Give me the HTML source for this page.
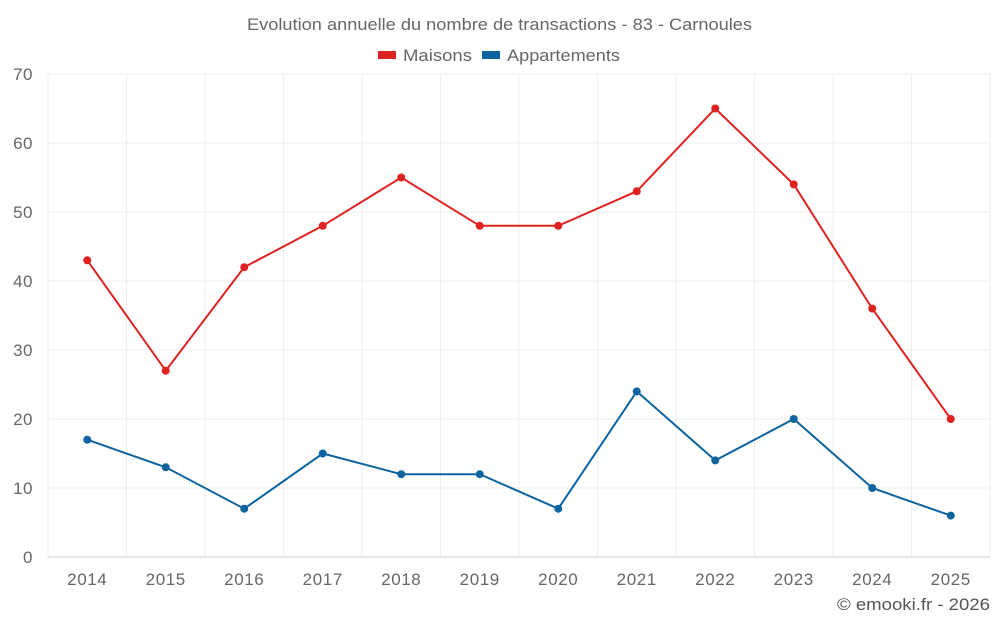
<!DOCTYPE html>
<html><head><meta charset="utf-8"><style>
body{margin:0;background:#fff;}
svg{display:block;font-family:"Liberation Sans",sans-serif;}
</style></head><body>
<svg id="chart" width="1000" height="625">
<text x="247" y="30" textLength="505" lengthAdjust="spacingAndGlyphs" font-size="17" fill="#666">Evolution annuelle du nombre de transactions - 83 - Carnoules</text>
<g>
<g><rect x="378" y="51" width="18" height="8" fill="#dd2222"/><text x="403" y="61" textLength="69" lengthAdjust="spacingAndGlyphs" font-size="17" fill="#666">Maisons</text></g>
<g><rect x="482" y="51" width="18" height="8" fill="#0f64a0"/><text x="507" y="61" textLength="113" lengthAdjust="spacingAndGlyphs" font-size="17" fill="#666">Appartements</text></g>
</g>
<g id="grid"></g><g id="axes"></g><g id="series"></g>
<text x="837" y="610" textLength="153" lengthAdjust="spacingAndGlyphs" font-size="17" fill="#555">© emooki.fr - 2026</text>
</svg>
<script>
const years=["2014","2015","2016","2017","2018","2019","2020","2021","2022","2023","2024","2025"];
const maisons=[43,27,42,48,55,48,48,53,65,54,36,20];
const appartements=[17,13,7,15,12,12,7,24,14,20,10,6];
const yTicks=[0,10,20,30,40,50,60,70];
const NS="http://www.w3.org/2000/svg";
const L=48,R=990,T=74,B=557,yMax=70;
const step=(R-L)/years.length;
const x=i=>L+step*(i+0.5);
const y=v=>B-(v/yMax)*(B-T);
function mk(t,a,p){const e=document.createElementNS(NS,t);for(const k in a)e.setAttribute(k,a[k]);p.appendChild(e);return e;}
const grid=document.getElementById('grid'),axes=document.getElementById('axes'),ser=document.getElementById('series');
yTicks.forEach(v=>{
 const g=mk('line',{x1:L,x2:R,y1:y(v),y2:y(v),stroke:v===0?'#ccc':'#eee'},grid);
 
 
 const t=mk('text',{x:33,y:y(v)+6,'text-anchor':'end','font-size':17,'letter-spacing':0.5,fill:'#666'},axes);t.textContent=v;
 
 
});
for(let i=0;i<=years.length;i++){
 const g=mk('line',{x1:L+step*i,x2:L+step*i,y1:T,y2:B,stroke:'#eee'},grid);
 
 
}
years.forEach((yr,i)=>{
 const t=mk('text',{x:x(i),y:585,'text-anchor':'middle','font-size':17,'letter-spacing':0.6,fill:'#666'},axes);t.textContent=yr;
 
 
});
function draw(data,color,name){
 const p=mk('polyline',{points:data.map((v,i)=>x(i)+','+y(v)).join(' '),fill:'none',stroke:color,'stroke-width':2},ser);
 
 
 data.forEach((v,i)=>{
  const c=mk('circle',{cx:x(i),cy:y(v),r:4,fill:color},ser);
  
  
 });
}
draw(maisons,'#dd2222','maisons');
draw(appartements,'#0f64a0','appartements');
</script>
</body></html>
